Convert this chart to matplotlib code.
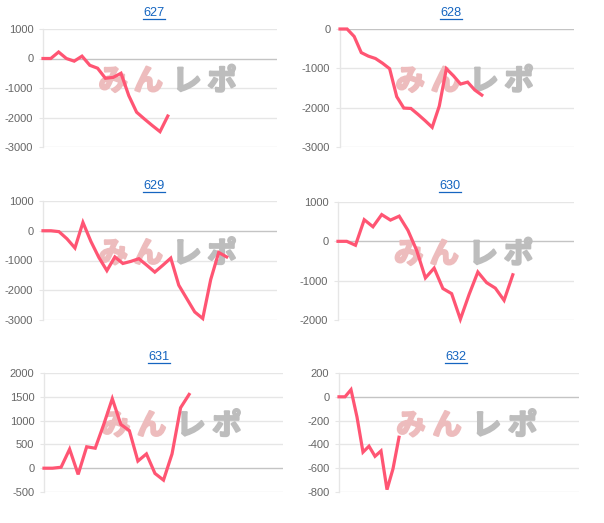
import matplotlib
matplotlib.use("Agg")
import matplotlib.pyplot as plt
from matplotlib.lines import Line2D
import matplotlib.patheffects as pe

# ---- data ----
titles = ["627", "628", "629", "630", "631", "632"]
d627 = [0, 0, 220, 0, -90, 80, -230, -330, -670, -640, -500, -1260, -1820, -2050, -2270, -2480, -1950]
d628 = [0, 0, -190, -600, -690, -750, -870, -1010, -1720, -2010, -2020, -2170, -2330, -2500, -1960,
        -1010, -1190, -1400, -1350, -1550, -1680]
d629 = [0, 0, -30, -270, -580, 280, -360, -900, -1340, -880, -1100, -1030, -940, -1160, -1390,
        -1160, -920, -1830, -2280, -2730, -2950, -1640, -730, -880]
d630 = [0, 0, -100, 550, 370, 680, 540, 640, 280, -230, -930, -680, -1200, -1330, -1980, -1350,
        -780, -1050, -1190, -1500, -850]
d631 = [0, 0, 20, 400, -130, 450, 420, 920, 1460, 920, 790, 150, 300, -110, -250, 300, 1270, 1550]
d632 = [0, 0, 60, -170, -465, -415, -500, -455, -780, -605, -340]
series = [d627, d628, d629, d630, d631, d632]

yticks = [
    [1000, 0, -1000, -2000, -3000],
    [0, -1000, -2000, -3000],
    [1000, 0, -1000, -2000, -3000],
    [1000, 0, -1000, -2000],
    [2000, 1500, 1000, 500, 0, -500],
    [200, 0, -200, -400, -600, -800],
]

# ---- layout (pixels) ----
W, H = 604, 523
# left, right, top, bottom
boxes = [
    (43, 277, 29, 147),
    (340, 574, 29, 147),
    (43, 277, 201, 320),
    (338, 574, 202, 320),
    (44, 283, 373, 492),
    (339, 579, 373, 492),
]
xmax = [30, 33, 29.3, 27, 28, 40]
title_pos = [(154, 13), (451, 13), (154, 186), (450, 186), (159, 357), (456, 357)]

line_color = "#ff5573"
grid_color = "#e6e6e6"
zero_color = "#c4c4c4"
tick_color = "#666666"
font = "Liberation Sans"

fig = plt.figure(figsize=(W / 100, H / 100), dpi=100)

title_texts = []
for i, (l, r, t, b) in enumerate(boxes):
    ax = fig.add_axes([l / W, 1 - b / H, (r - l) / W, (b - t) / H])
    vals = series[i]
    ticks = yticks[i]
    ax.set_ylim(min(ticks), max(ticks))
    ax.set_xlim(0, xmax[i])
    for v in ticks:
        ax.axhline(v, color=zero_color if v == 0 else grid_color, lw=1.0, zorder=1)
    for s in ["top", "right", "bottom"]:
        ax.spines[s].set_visible(False)
    ax.spines["left"].set_color(grid_color)
    ax.spines["left"].set_linewidth(1.0)
    ax.set_xticks([])
    ax.set_yticks(ticks)
    ax.set_yticklabels([str(v) for v in ticks], fontsize=8, color=tick_color, family=font)
    ax.tick_params(axis="y", length=3, color=grid_color, pad=4)
    ax.set_facecolor("white")

    # watermark
    wm_y = 0.56
    for ch, xf, c in [("み", 0.30, "#edbcbd"), ("ん", 0.45, "#edbcbd"),
                      ("レ", 0.615, "#bdbdbd"), ("ポ", 0.765, "#bdbdbd")]:
        ax.text(xf, wm_y, ch, transform=ax.transAxes, ha="center", va="center",
                fontsize=21, fontweight="bold", color=c, family="Noto Sans CJK JP", zorder=2,
                path_effects=[pe.withStroke(linewidth=1.6, foreground=c)])

    ax.plot(range(len(vals)), vals, color=line_color, lw=2.3, zorder=3,
            solid_joinstyle="miter", clip_on=False)

    tx, ty = title_pos[i]
    tt = fig.text(tx / W, 1 - ty / H, titles[i], ha="center", va="center",
                  fontsize=9.2, color="#1565c0", family=font)
    title_texts.append(tt)

fig.canvas.draw()
renderer = fig.canvas.get_renderer()
for tt in title_texts:
    bb = tt.get_window_extent(renderer)
    y = bb.y0 + 0.5
    fig.add_artist(Line2D([bb.x0 / W, bb.x1 / W], [y / H, y / H],
                          transform=fig.transFigure, color="#1565c0", lw=0.9))

fig.savefig("out.png", dpi=100, facecolor="white")
